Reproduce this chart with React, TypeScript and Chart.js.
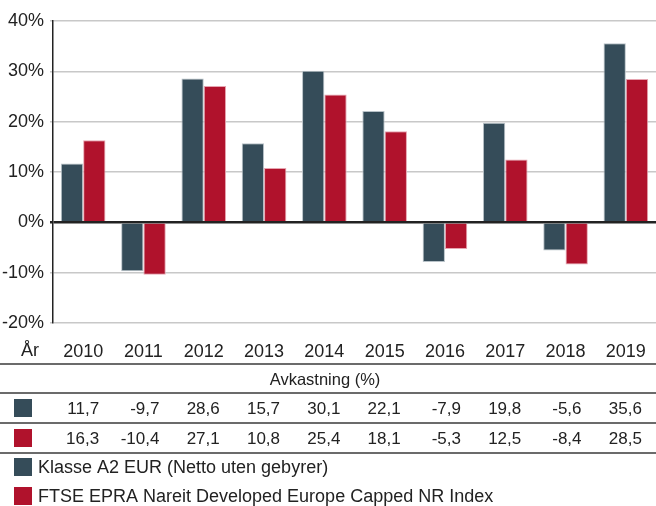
import React, { useEffect, useRef } from "react";
import { Chart, registerables } from "chart.js";

Chart.register(...registerables);

const years = ["2010", "2011", "2012", "2013", "2014", "2015", "2016", "2017", "2018", "2019"];
const fundValues = [11.7, -9.7, 28.6, 15.7, 30.1, 22.1, -7.9, 19.8, -5.6, 35.6];
const indexValues = [16.3, -10.4, 27.1, 10.8, 25.4, 18.1, -5.3, 12.5, -8.4, 28.5];
const seriesNames = ["Klasse A2 EUR (Netto uten gebyrer)", "FTSE EPRA Nareit Developed Europe Capped NR Index"];
const yearLabel = "År";
const tableTitle = "Avkastning (%)";

const DARK = "#354c59";
const RED = "#b0122c";
const FONT = "'Liberation Sans', Arial, sans-serif";

const fmt = (v: number) => v.toFixed(1).replace(".", ",");

const tablePlugin = {
  id: "tablePlugin",
  afterDraw(chart: any) {
    const ctx = chart.ctx as CanvasRenderingContext2D;
    const x = chart.scales.x;
    const W = chart.width;
    ctx.save();
    ctx.fillStyle = "#222";
    ctx.textBaseline = "middle";
    // År label
    ctx.font = `18px ${FONT}`;
    ctx.textAlign = "center";
    ctx.fillText(yearLabel, 30, 351);
    // lines
    const lines = [364, 393, 423, 453];
    ctx.strokeStyle = "#3a3a3a";
    ctx.lineWidth = 1.5;
    lines.forEach((y) => {
      ctx.beginPath();
      ctx.moveTo(0, y);
      ctx.lineTo(W, y);
      ctx.stroke();
    });
    // title
    ctx.font = `16.5px ${FONT}`;
    ctx.textAlign = "center";
    ctx.fillText(tableTitle, 325, 380);
    // rows
    const rows = [
      { vals: fundValues, color: DARK, y: 408 },
      { vals: indexValues, color: RED, y: 438 },
    ];
    ctx.font = `17px ${FONT}`;
    rows.forEach((r) => {
      ctx.fillStyle = r.color;
      ctx.fillRect(14, r.y - 9, 18, 18);
      ctx.fillStyle = "#222";
      ctx.textAlign = "right";
      r.vals.forEach((v, i) => {
        const cx = x.getPixelForValue(i);
        ctx.fillText(fmt(v), cx + 16, r.y + 1);
      });
    });
    // legend
    ctx.font = `18px ${FONT}`;
    const leg = [
      { name: seriesNames[0], color: DARK, y: 467 },
      { name: seriesNames[1], color: RED, y: 496 },
    ];
    leg.forEach((l) => {
      ctx.fillStyle = l.color;
      ctx.fillRect(14, l.y - 9, 18, 18);
      ctx.fillStyle = "#222";
      ctx.textAlign = "left";
      ctx.fillText(l.name, 38, l.y + 1);
    });
    ctx.restore();
  },
};

export default function App() {
  const ref = useRef<HTMLCanvasElement | null>(null);
  useEffect(() => {
    if (!ref.current) return;
    const chart = new Chart(ref.current, {
      type: "bar",
      data: {
        labels: years,
        datasets: [
          {
            label: seriesNames[0],
            data: fundValues,
            backgroundColor: DARK,
            borderColor: "#b8c2c8",
            borderWidth: 1,
            categoryPercentage: 0.74,
            barPercentage: 1,
          },
          {
            label: seriesNames[1],
            data: indexValues,
            backgroundColor: RED,
            borderColor: "#e6a4b0",
            borderWidth: 1,
            categoryPercentage: 0.74,
            barPercentage: 1,
          },
        ],
      },
      options: {
        responsive: false,
        animation: false,
        layout: { padding: { top: 21, right: 0, left: 0, bottom: 0 } },
        plugins: { legend: { display: false }, tooltip: { enabled: false } },
        scales: {
          x: {
            grid: { display: false },
            border: { display: false },
            ticks: {
              color: "#222",
              font: { family: FONT, size: 18 },
              padding: 10,
              maxRotation: 0,
            },
            afterFit: (s: any) => {
              s.height = 183;
              s.paddingLeft = 0;
              s.paddingRight = 0;
            },
          },
          y: {
            min: -20,
            max: 40,
            ticks: {
              stepSize: 10,
              color: "#222",
              font: { family: FONT, size: 18 },
              padding: 6,
              callback: (v: any) => `${v}%`,
            },
            grid: {
              color: (c: any) => (c.tick && c.tick.value === 0 ? "#222" : "#c8c8c8"),
              lineWidth: (c: any) => (c.tick && c.tick.value === 0 ? 2.5 : 1.5),
              tickLength: 3,
            },
            border: { display: true, color: "#222", width: 1.5 },
            afterFit: (s: any) => {
              s.width = 53;
            },
          },
        },
      },
      plugins: [tablePlugin],
    });
    return () => chart.destroy();
  }, []);
  return (
    <div style={{ position: "fixed", left: 0, top: 0, width: 656, height: 506, background: "#fff" }}>
      <canvas ref={ref} width={656} height={506} style={{ display: "block" }} />
    </div>
  );
}
